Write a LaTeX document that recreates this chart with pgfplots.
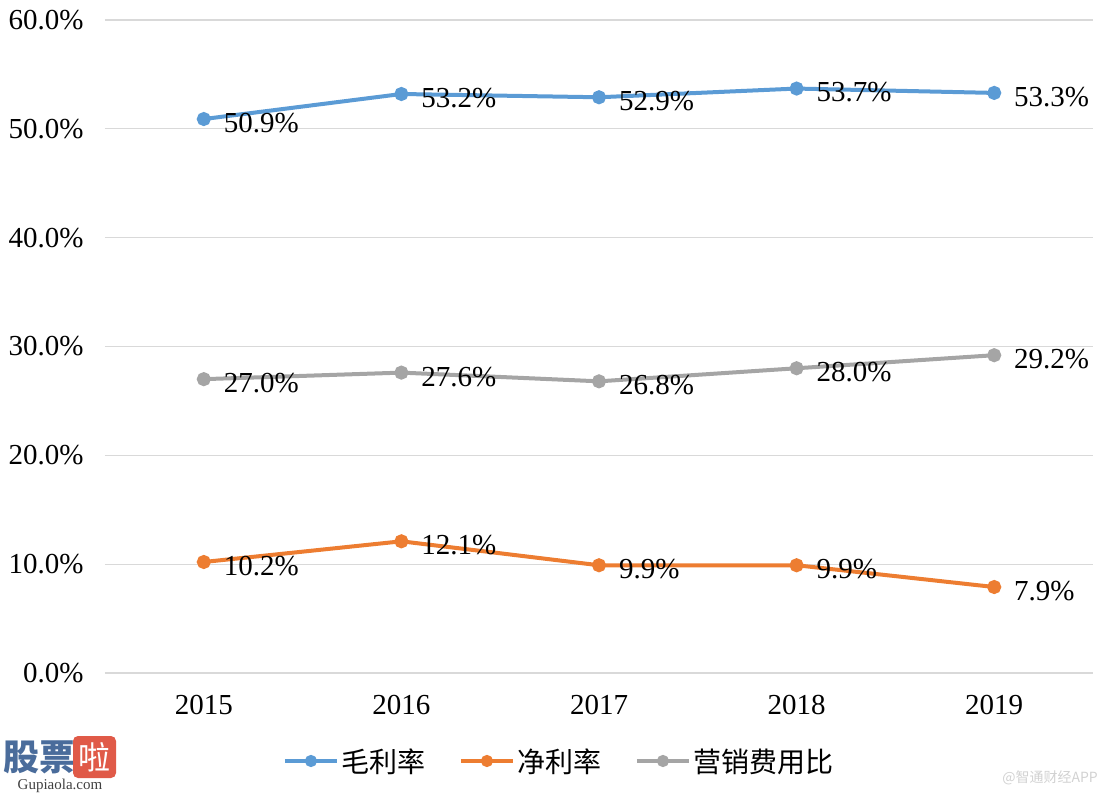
\documentclass[border=0pt]{standalone}
\usepackage{pgfplots}
\pgfplotsset{compat=1.18}
\usepackage{fontspec}
\setmainfont{Liberation Serif}
\newfontfamily\cjk{Noto Sans CJK SC}
\definecolor{cblue}{HTML}{5B9BD5}
\definecolor{corange}{HTML}{ED7D31}
\definecolor{cgray}{HTML}{A5A5A5}
\definecolor{cgrid}{HTML}{D9D9D9}
\definecolor{logoblue}{HTML}{4A6C9B}
\definecolor{logored}{HTML}{E05A48}
\pgfplotsset{/pgf/number format/assume math mode=true}
\begin{document}
\begin{tikzpicture}
\path[use as bounding box] (0,0) rectangle (1108pt,796pt);
\begin{axis}[
  at={(105pt,123pt)}, anchor=south west,
  scale only axis, width=988pt, height=653pt,
  xmin=-0.5, xmax=4.5, ymin=0, ymax=60,
  xtick={0,1,2,3,4}, xticklabels={2015,2016,2017,2018,2019},
  ytick={0,10,20,30,40,50,60},
  yticklabel={\pgfmathprintnumber[fixed,fixed zerofill,precision=1]{\tick}\%},
  axis line style={draw=none}, major tick style={draw=none},
  ymajorgrids, grid style={color=cgrid, line width=1.3pt},
  tick label style={font=\fontsize{29}{33}\selectfont},
  yticklabel style={xshift=-18pt},
  xticklabel style={yshift=-19pt},
  every axis plot/.append style={line width=4pt, mark=*, mark size=5pt, mark options={solid}},
  nodes near coords={\pgfmathprintnumber[fixed,fixed zerofill,precision=1]{\pgfplotspointmeta}\%},
  every node near coord/.append style={anchor=west, inner sep=0pt, xshift=18pt, yshift=-4pt, font=\fontsize{29}{33}\selectfont, text=black},
  legend columns=3,
  legend style={at={(0.4605,0)}, anchor=center, yshift=-88pt, draw=none, fill=none,
    font=\cjk\fontsize{28}{32}\selectfont,
    /tikz/every even column/.append style={column sep=30pt},
    nodes={inner xsep=3pt}},
  legend image code/.code={\draw[mark repeat=2,mark phase=2,mark size=4pt,#1] plot coordinates {(0pt,0pt) (26pt,0pt) (52pt,0pt)};},
  clip=false,
]
\addplot[color=cblue] coordinates {(0,50.9) (1,53.2) (2,52.9) (3,53.7) (4,53.3)};
\addlegendentry{毛利率}
\addplot[color=corange] coordinates {(0,10.2) (1,12.1) (2,9.9) (3,9.9) (4,7.9)};
\addlegendentry{净利率}
\addplot[color=cgray] coordinates {(0,27.0) (1,27.6) (2,26.8) (3,28.0) (4,29.2)};
\addlegendentry{营销费用比}
\end{axis}
% watermarks
\node[anchor=center, inner sep=0pt, text=logoblue, font=\cjk\bfseries\fontsize{36}{38}\selectfont] at (39pt,39pt) {股票};
\fill[logored, rounded corners=5pt] (73pt,18pt) rectangle (116pt,60pt);
\node[anchor=center, inner sep=0pt, text=white, font=\cjk\fontsize{32}{34}\selectfont] at (94.5pt,39pt) {啦};
\node[anchor=center, inner sep=0pt, text=black!75, font=\fontsize{15}{17}\selectfont] at (60pt,10pt) {Gupiaola.com};
\node[anchor=east, inner sep=0pt, text=black!18, font=\cjk\fontsize{14}{16}\selectfont] at (1098pt,18pt) {@智通财经APP};
\end{tikzpicture}
\end{document}
